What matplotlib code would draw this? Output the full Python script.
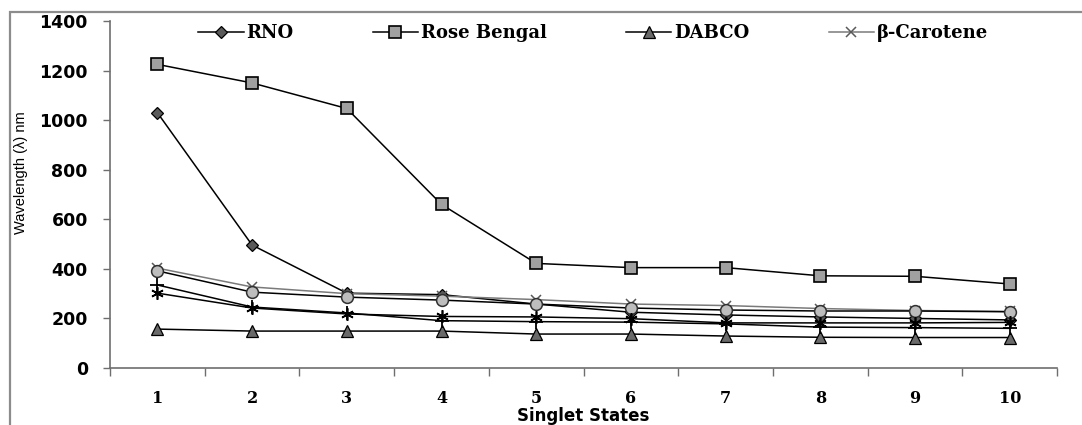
import numpy as np
import matplotlib
matplotlib.use("Agg")
import matplotlib.pyplot as plt
from matplotlib.patches import Rectangle
from matplotlib.ticker import FixedLocator

# singlet excitation wavelengths (nm) for states 1..10
states = [1, 2, 3, 4, 5, 6, 7, 8, 9, 10]
rno = [1030, 496, 302, 296, 258, 225, 214, 206, 200, 194]
rose_bengal = [1225, 1150, 1047, 660, 422, 405, 405, 372, 370, 339]
dabco = [157, 149, 149, 149, 137, 137, 129, 124, 123, 123]
carotene = [403, 327, 300, 290, 276, 258, 252, 240, 232, 228]
circle_set = [392, 306, 286, 274, 258, 242, 234, 230, 230, 227]
star_set = [302, 242, 218, 208, 206, 199, 182, 182, 182, 184]
plus_set = [335, 246, 222, 191, 187, 185, 178, 165, 163, 160]

names = ['RNO', 'Rose Bengal', 'DABCO', '\u03b2-Carotene']

fig = plt.figure(figsize=(10.82, 4.25), dpi=100)
ax = fig.add_axes([0.1017, 0.1341, 0.8753, 0.8165])

x = np.array(states)
lw = 1.1
h1, = ax.plot(x, rno, color='black', lw=lw, marker='D', ms=6.5,
              mfc='#5a5a5a', mec='black', mew=0.9, label=names[0])
h2, = ax.plot(x, rose_bengal, color='black', lw=lw, marker='s', ms=8,
              mfc='#a0a0a0', mec='black', mew=1.2, label=names[1])
h3, = ax.plot(x, dabco, color='black', lw=lw, marker='^', ms=8.5,
              mfc='#6a6a6a', mec='black', mew=0.9, label=names[2])
h4, = ax.plot(x, carotene, color='#7a7a7a', lw=lw, marker='x', ms=7,
              mec='#5a5a5a', mew=1.1, label=names[3])
ax.plot(x, circle_set, color='black', lw=lw, marker='o', ms=8.5,
        mfc='#bdbdbd', mec='#303030', mew=1.1)
ax.plot(x, star_set, color='black', lw=lw, marker=(6, 2, 0), ms=9,
        mec='black', mew=1.2)
ax.plot(x, plus_set, color='black', lw=lw, marker='+', ms=10,
        mec='black', mew=1.3)

ax.set_xlim(0.5, 10.5)
ax.set_ylim(0, 1400)
ax.set_yticks(range(0, 1401, 200))
ax.set_xticks(states)
ax.xaxis.set_minor_locator(FixedLocator(np.arange(0.5, 10.6, 1.0)))

for side in ['top', 'right']:
    ax.spines[side].set_visible(False)
for side in ['left', 'bottom']:
    ax.spines[side].set_color('#6e6e6e')
    ax.spines[side].set_linewidth(1.2)

ax.tick_params(axis='y', direction='out', length=5, width=1.0,
               color='#6e6e6e', pad=11)
ax.tick_params(axis='x', which='major', length=0, pad=16)
ax.tick_params(axis='x', which='minor', direction='out', length=6,
               width=1.0, color='#6e6e6e')

for lab in ax.get_yticklabels():
    lab.set_fontfamily('DejaVu Sans')
    lab.set_fontweight('bold')
    lab.set_fontsize(12.5)
for lab in ax.get_xticklabels():
    lab.set_fontfamily('DejaVu Serif')
    lab.set_fontweight('bold')
    lab.set_fontsize(11.5)

ax.set_ylabel('Wavelength (\u03bb) nm', fontfamily='Liberation Sans',
              fontsize=10.5)
ax.yaxis.set_label_coords(-0.0866, 0.562)
ax.set_xlabel('Singlet States', fontfamily='DejaVu Sans',
              fontweight='bold', fontsize=12)
ax.xaxis.set_label_coords(0.50, -0.112)

ax.legend(handles=[h1, h2, h3, h4], loc='center', ncol=4,
          bbox_to_anchor=(0.51, 0.965), frameon=False,
          prop={'family': 'DejaVu Serif', 'weight': 'bold', 'size': 13},
          handlelength=2.5, handletextpad=0.15, columnspacing=4.4)

# gray outer frame, cropped at the right and bottom edges
fig.patches.append(Rectangle((10 / 1082, -0.2), 1.5, 1.2 - 12 / 425,
                             transform=fig.transFigure, fill=False,
                             edgecolor='#8c8c8c', lw=1.6))

fig.savefig('out.png', dpi=100)
